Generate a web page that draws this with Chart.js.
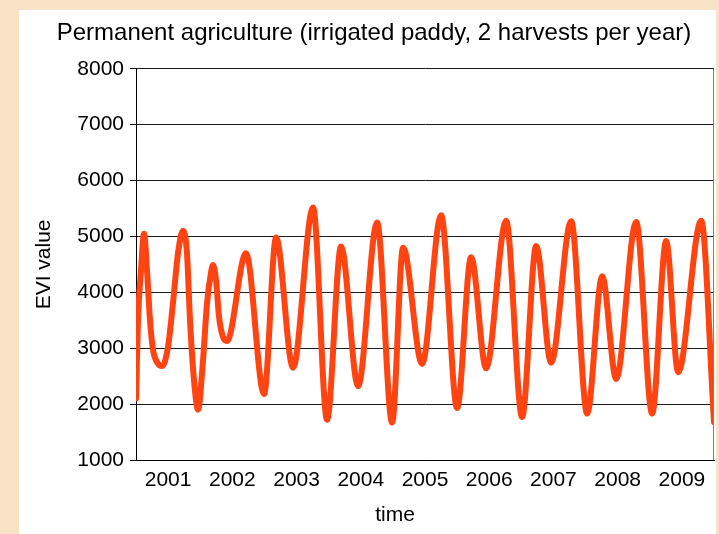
<!DOCTYPE html>
<html>
<head>
<meta charset="utf-8">
<script src="https://cdn.jsdelivr.net/npm/chart.js@4"></script>
<style>
  html, body { margin: 0; padding: 0; background: #F8E3C6; }
  #wrap { position: absolute; left: 0; top: 0; width: 719px; height: 534px; }
</style>
</head>
<body>
<div id="wrap"><canvas id="c" width="719" height="534"></canvas></div>
<script>
// ---- data ----
const chartTitle = 'Permanent agriculture (irrigated paddy, 2 harvests per year)';
const yAxisTitle = 'EVI value';
const xAxisTitle = 'time';
const yearLabels = [2001, 2002, 2003, 2004, 2005, 2006, 2007, 2008, 2009];
// sample time (decimal year) of each read point
const sampleTimes = [
  2001.00, 2001.031, 2001.078, 2001.125, 2001.171, 2001.218, 2001.265, 2001.327,
  2001.405, 2001.498, 2001.576, 2001.654, 2001.732, 2001.794, 2001.841, 2001.903,
  2001.966, 2002.044, 2002.106, 2002.168, 2002.199, 2002.246, 2002.293, 2002.355,
  2002.417, 2002.713,
  2002.994, 2003.181, 2003.445, 2003.757, 2003.975, 2004.193, 2004.458, 2004.754,
  2004.988, 2005.159, 2005.455, 2005.751, 2006.000, 2006.218, 2006.452, 2006.763,
  2007.012, 2007.231, 2007.464, 2007.776, 2008.025, 2008.259, 2008.477, 2008.788,
  2009.037, 2009.255, 2009.442, 2009.801, 2010.00
];
// EVI value at each sample time
const eviValues = [
  2100, 3500, 4400, 5050, 4400, 3500, 2970, 2750,
  2680, 3020, 3810, 4700, 5100, 4700, 3500, 2430,
  1900, 2790, 3810, 4350, 4490, 4220, 3560, 3200,
  3130, 4700,
  2180, 4980, 2650, 5520, 1720, 4820, 2320, 5250,
  1670, 4800, 2720, 5380, 1930, 4630, 2640, 5280,
  1770, 4830, 2740, 5270, 1830, 4290, 2450, 5260,
  1830, 4920, 2570, 5280, 1680
];

const FONT = '"Liberation Sans", Arial, Helvetica, sans-serif';
const points = sampleTimes.map((t, i) => ({ x: t, y: eviValues[i] }));

const backgroundPlugin = {
  id: 'panelBackground',
  beforeDraw(chart) {
    const ctx = chart.ctx;
    ctx.save();
    ctx.fillStyle = '#F8E3C6';
    ctx.fillRect(0, 0, chart.width, chart.height);
    ctx.fillStyle = '#FFFFFF';
    ctx.fillRect(19, 10, 697, chart.height - 10);
    ctx.restore();
  }
};

const framePlugin = {
  id: 'frameAndTitle',
  afterDraw(chart) {
    const ctx = chart.ctx;
    const a = chart.chartArea;
    ctx.save();
    ctx.strokeStyle = '#808080';
    ctx.lineWidth = 1;
    ctx.beginPath();
    ctx.moveTo(Math.round(a.right) - 0.5, a.top);
    ctx.lineTo(Math.round(a.right) - 0.5, a.bottom);
    ctx.stroke();
    ctx.fillStyle = '#000';
    ctx.font = '21px ' + FONT;
    ctx.textAlign = 'center';
    ctx.textBaseline = 'middle';
    ctx.fillText(xAxisTitle, 395, 515);
    ctx.restore();
  }
};

new Chart(document.getElementById('c'), {
  type: 'line',
  data: {
    datasets: [{
      data: points,
      borderColor: '#FF4411',
      borderWidth: 6,
      pointRadius: 0,
      fill: false,
      cubicInterpolationMode: 'monotone',
      borderCapStyle: 'round',
      borderJoinStyle: 'round'
    }]
  },
  options: {
    responsive: false,
    animation: false,
    devicePixelRatio: 1,
    layout: { padding: { left: 34, right: 5, top: 10, bottom: 0 } },
    plugins: {
      legend: { display: false },
      tooltip: { enabled: false },
      title: {
        display: true,
        text: chartTitle,
        color: '#000',
        font: { family: FONT, size: 24, weight: 'normal', lineHeight: 1.2 },
        padding: { top: 9, bottom: 21 }
      }
    },
    scales: {
      x: {
        type: 'linear',
        min: 2001,
        max: 2010,
        afterBuildTicks(scale) {
          scale.ticks = yearLabels.map(y => ({ value: y + 0.5 }));
        },
        afterFit(scale) { scale.height = 74; },
        grid: { display: false, drawTicks: false },
        border: { display: true, color: '#000', width: 1 },
        ticks: {
          autoSkip: false,
          maxRotation: 0,
          padding: 8,
          color: '#000',
          font: { family: FONT, size: 21 },
          callback: (v) => String(Math.floor(v))
        }
      },
      y: {
        min: 1000,
        max: 8000,
        afterFit(scale) { scale.width = 102; },
        ticks: {
          stepSize: 1000,
          padding: 6,
          color: '#000',
          font: { family: FONT, size: 21 },
          callback: (v) => String(v)
        },
        grid: { color: '#1a1a1a', lineWidth: 1, drawTicks: true, tickLength: 6, tickColor: '#000' },
        border: { display: true, color: '#000', width: 1 },
        title: {
          display: true,
          text: yAxisTitle,
          color: '#000',
          font: { family: FONT, size: 21, lineHeight: 1 },
          padding: { top: 0, bottom: 0 }
        }
      }
    }
  },
  plugins: [backgroundPlugin, framePlugin]
});
</script>
</body>
</html>
